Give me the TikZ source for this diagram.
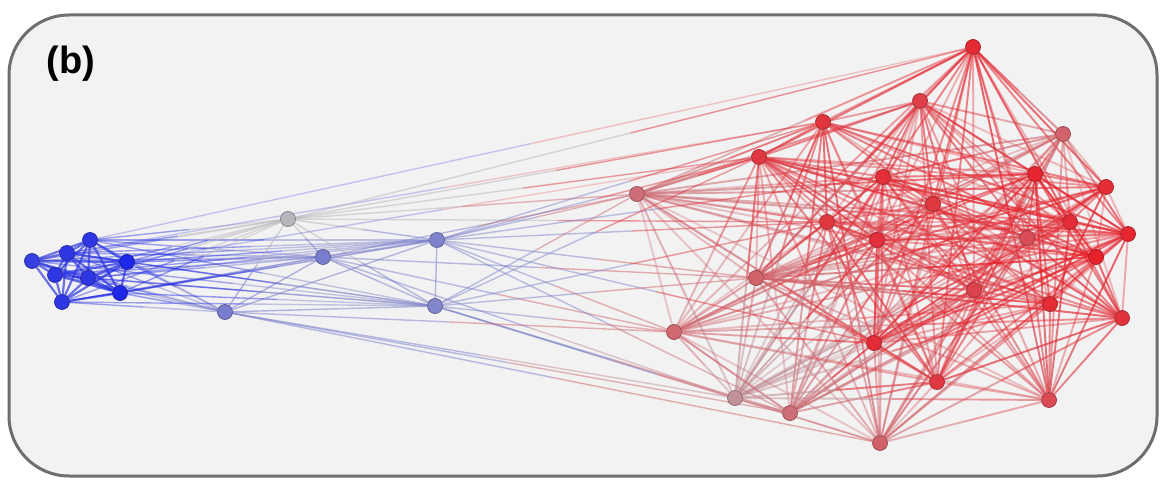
\documentclass[tikz,border=0pt]{standalone}
\usepackage{fontspec}
\setsansfont{Liberation Sans}
\usetikzlibrary{calc}
\definecolor{nblue}{RGB}{30,40,230}
\definecolor{ngrey}{RGB}{182,182,188}
\definecolor{nred}{RGB}{232,32,42}
\definecolor{panel}{RGB}{242,242,242}
\definecolor{rim}{RGB}{110,110,110}
\pgfdeclarelayer{back}
\pgfdeclarelayer{edges}
\pgfsetlayers{back,edges,main}
% half of the edge in the colour of each end
\newcommand{\edgelink}[3][0.45]{%
  \draw[edge, draw=col#2, draw opacity=#1] (#2) -- ($(#2)!0.5!(#3)$);
  \draw[edge, draw=col#3, draw opacity=#1] ($(#2)!0.5!(#3)$) -- (#3);}

\begin{document}
\begin{tikzpicture}[x=1pt, y=-1pt,
    vert/.style = {draw, circle, inner sep=0pt, minimum size=15pt, line width=0.7pt},
    edge/.style = {line width=1.9pt}]
  \useasboundingbox (0,0) rectangle (1166,486);
  \begin{pgfonlayer}{back}
    \draw[rim, line width=3pt, fill=panel, rounded corners=60pt] (9,15) rectangle (1157,476);
  \end{pgfonlayer}
  \node[font=\sffamily\bfseries\fontsize{38}{40}\selectfont] (tag) at (71,64) {(b)};

  % vertices: name/x/y/level (0 blue, 50 grey, 100 red)
  \foreach \n/\x/\y/\l in {b1/32/261/8, b2/67/253/5, b3/90/240/5, b4/55/275/5,
      b5/88/278/5, b6/127/262/0, b7/120/293/0, b8/62/302/5,
      g1/288/219/50, g2/323/257/30, g3/437/240/32, g4/435/306/33, g5/225/312/30,
      r1/637/194/74, r2/759/157/92, r3/823/122/93, r4/920/101/90, r5/973/47/97,
      r6/1063/134/78, r7/883/177/95, r8/1035/174/98, r9/1106/187/96,
      r10/933/204/92, r11/1070/222/96, r12/1128/234/98, r13/827/222/92,
      r14/877/240/95, r15/1027/238/85, r16/1096/257/100, r17/756/278/78,
      r18/974/290/88, r19/1050/304/96, r20/1122/318/94, r21/674/332/76,
      r22/874/343/96, r23/937/382/92, r24/1049/400/86, r25/735/398/62,
      r26/790/413/74, r27/880/443/78} {
    \ifnum\l<50
      \pgfmathtruncatemacro\p{2*\l}
      \xglobal\colorlet{col\n}{ngrey!\p!nblue}
    \else
      \pgfmathtruncatemacro\p{2*\l-100}
      \xglobal\colorlet{col\n}{nred!\p!ngrey}
    \fi
    \node[vert, fill=col\n, draw=col\n!70!black] (\n) at (\x,\y) {};
  }

  \begin{pgfonlayer}{edges}
    \pgfmathsetseed{11}
    % red community
    \foreach \i in {1,...,26} {
      \pgfmathtruncatemacro\s{\i+1}
      \foreach \j in {\s,...,27} {
        \pgfmathtruncatemacro\keep{rnd<0.8 ? 1 : 0}
        \pgfmathsetmacro\o{0.3+0.45*rnd}
        \ifnum\keep=1 \edgelink[\o]{r\i}{r\j}\fi
      }
    }
    % blue community
    \begin{scope}[edge/.style={line width=2.2pt}]
      \foreach \i in {1,...,7} {
        \pgfmathtruncatemacro\s{\i+1}
        \foreach \j in {\s,...,8} {\edgelink[0.7]{b\i}{b\j}}
      }
    \end{scope}
    % bridges
    \begin{scope}[edge/.style={line width=1.4pt}]
      \foreach \i in {1,...,8}
        \foreach \g in {g1,g2,g3,g4,g5} {\edgelink[0.45]{b\i}{\g}}
      \foreach \a/\b in {g1/g2, g1/g3, g1/g4, g1/g5, g2/g3, g2/g4, g2/g5,
          g3/g4, g3/g5, g4/g5}
        {\edgelink[0.55]{\a}{\b}}
      \foreach \a/\b in {b3/r5, b2/r3, b6/r2}
        {\edgelink[0.25]{\a}{\b}}
      \foreach \a/\b in {g1/r5, g1/r3, g1/r2, g1/r1, g1/r13,
          g2/r1, g2/r17, g2/r21, g2/r25,
          g3/r1, g3/r2, g3/r3, g3/r7, g3/r13, g3/r17, g3/r21, g3/r22, g3/r26,
          g4/r1, g4/r2, g4/r13, g4/r17, g4/r21, g4/r25, g4/r26, g4/r27,
          g5/r21, g5/r25, g5/r26, g5/r27}
        {\edgelink[0.5]{\a}{\b}}
    \end{scope}
  \end{pgfonlayer}
\end{tikzpicture}
\end{document}
